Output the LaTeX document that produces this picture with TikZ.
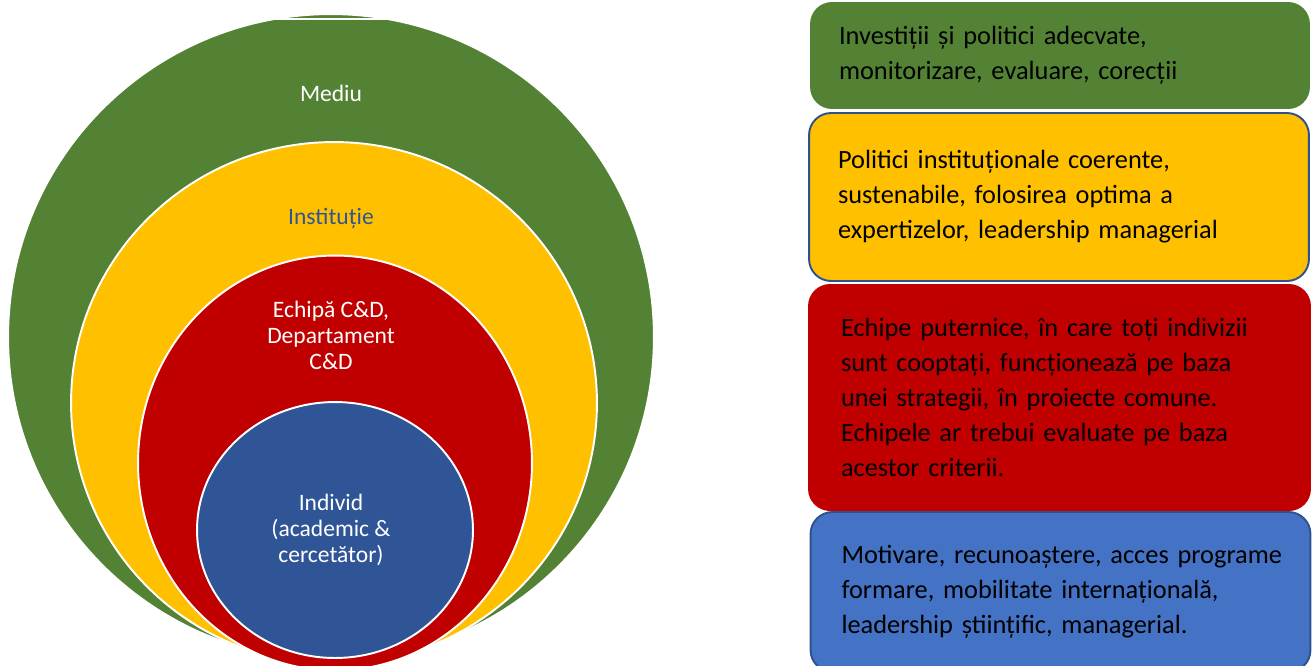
\documentclass[tikz,border=0pt]{standalone}
\usepackage{fontspec}
\setmainfont{Carlito}
\usepackage{xcolor}
\usepackage{tikz}
\usetikzlibrary{shapes.geometric, positioning, calc}

\definecolor{envgreen}{RGB}{84,130,53}
\definecolor{instyellow}{RGB}{255,192,0}
\definecolor{teamred}{RGB}{192,0,0}
\definecolor{inddark}{RGB}{47,85,151}
\definecolor{boxblue}{RGB}{68,114,196}
\definecolor{edgeblue}{RGB}{47,82,143}

\begin{document}
\begin{tikzpicture}[
    x=0.02cm, y=-0.02cm,
    ring/.style={ellipse, draw=white, line width=1.1pt, inner sep=0pt},
    ringlabel/.style={align=center, text=white, font=\fontsize{13.4}{14.8}\selectfont},
    panel/.style={rectangle, rounded corners=0.44cm, minimum width=10cm, text width=8.84cm, inner xsep=0.58cm, align=left, text=black, font=\fontsize{15}{19.9}\selectfont}
]
\useasboundingbox (0,0) rectangle (1312,666);
\clip (0,0) rectangle (1312,666);

% nested circles
\node[ring, fill=envgreen, minimum width=12.92cm, minimum height=12.92cm] (mediu) at (331,337) {};
\draw[white, line width=1pt] (265,19) -- (395,19);
\node[ring, fill=instyellow, minimum width=10.52cm, minimum height=10.44cm] (institutie) at (334,403) {};
\node[ring, fill=teamred, minimum width=7.88cm, minimum height=8.3cm] (echipa) at (335,463) {};
\node[ring, fill=inddark, minimum width=5.52cm, minimum height=5.12cm] (individ) at (335,530) {};

\node[ringlabel] (lmediu) at (331,93) {Mediu};
\node[ringlabel, text=inddark] (linstitutie) at (331,219) {Instituție};
\node[ringlabel] (lechipa) at (331,335) {Echipă C\&D,\\Departament\\C\&D};
\node[ringlabel] (lindivid) at (331,530) {Individ\\(academic \&\\cercetător)};

% level descriptions
\node[panel, fill=envgreen, minimum height=2.14cm] (penv) at (1060,55.5) {Investiții și politici adecvate,\\monitorizare, evaluare, corecții};
\node[panel, fill=instyellow, draw=edgeblue, line width=1.1pt, minimum height=3.36cm] (pinst) at (1059,197) {Politici instituționale coerente,\\sustenabile, folosirea optima a\\expertizelor, leadership managerial};
\node[panel, fill=teamred, minimum width=10.06cm, minimum height=4.54cm, inner xsep=0.66cm, text width=8.74cm] (pteam) at (1059.5,397.5) {Echipe puternice, în care toți indivizii\\sunt cooptați, funcționează pe baza\\unei strategii, în proiecte comune.\\Echipele ar trebui evaluate pe baza\\acestor criterii.};
\node[panel, fill=boxblue, draw=edgeblue, line width=1.1pt, minimum height=3.2cm, inner xsep=0.62cm, text width=8.76cm] (pind) at (1060.5,592) {\mbox{Motivare, recunoaștere, acces programe}\\formare, mobilitate internațională,\\leadership științific, managerial.};

\end{tikzpicture}
\end{document}
